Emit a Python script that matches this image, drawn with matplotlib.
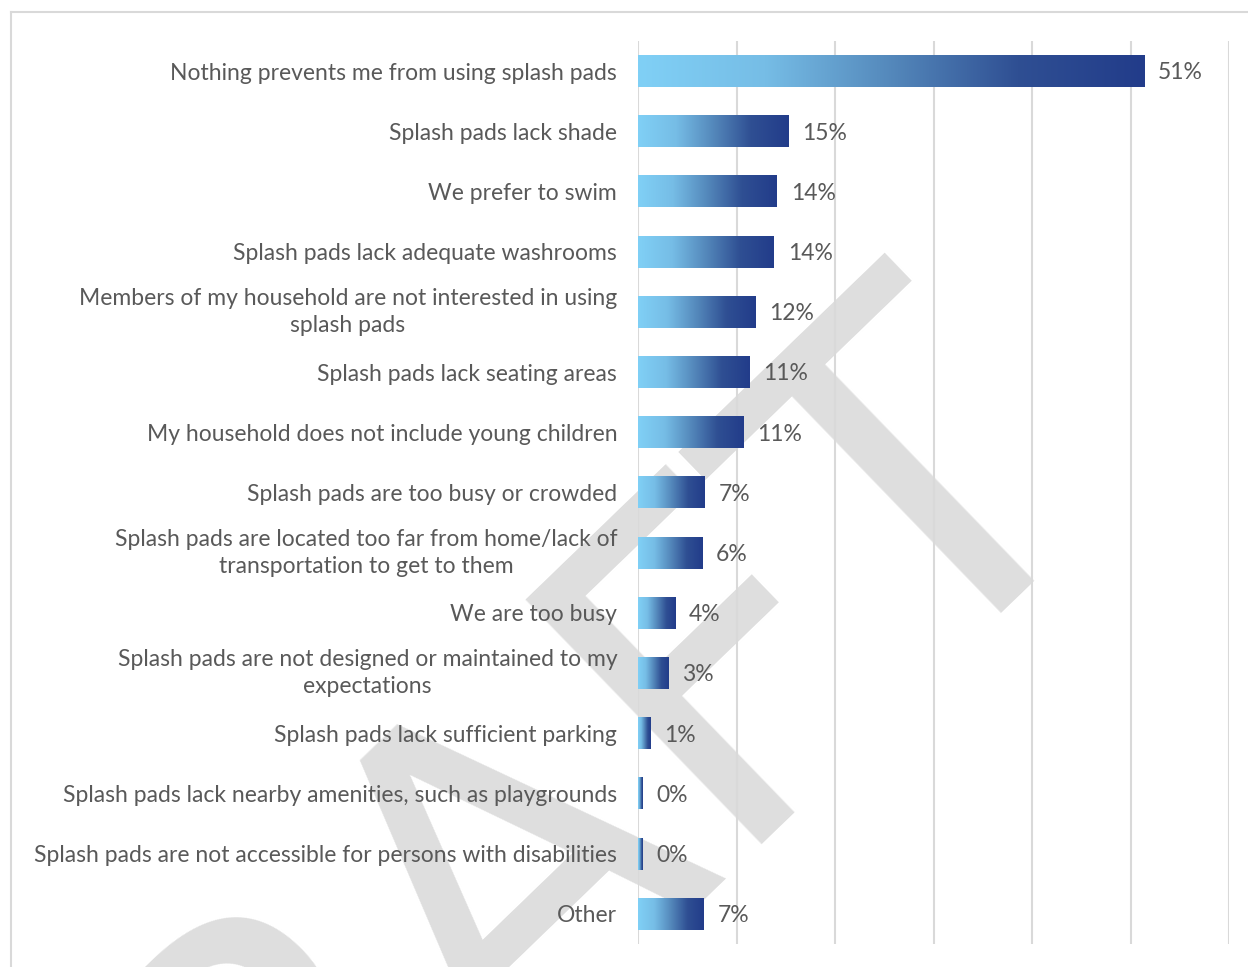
import matplotlib
matplotlib.use('Agg')
import matplotlib.pyplot as plt
from matplotlib import font_manager
from matplotlib.colors import LinearSegmentedColormap
from matplotlib.lines import Line2D
from matplotlib.transforms import ScaledTranslation
import numpy as np

# survey answers, top to bottom
reasons = [
    'Nothing prevents me from using splash pads',
    'Splash pads lack shade',
    'We prefer to swim',
    'Splash pads lack adequate washrooms',
    'Members of my household are not interested in using\nsplash pads',
    'Splash pads lack seating areas',
    'My household does not include young children',
    'Splash pads are too busy or crowded',
    'Splash pads are located too far from home/lack of\ntransportation to get to them',
    'We are too busy',
    'Splash pads are not designed or maintained to my\nexpectations',
    'Splash pads lack sufficient parking',
    'Splash pads lack nearby amenities, such as playgrounds',
    'Splash pads are not accessible for persons with disabilities',
    'Other',
]
values = [51.4, 15.3, 14.1, 13.8, 11.9, 11.3, 10.7, 6.8, 6.5, 3.8, 3.1, 1.3, 0.5, 0.5, 6.7]
labels = ['51%', '15%', '14%', '14%', '12%', '11%', '11%', '7%', '6%', '4%', '3%', '1%', '0%', '0%', '7%']

FONT = 'Lato'
TEXT = '#595959'
GRID = '#d9d9d9'

installed = {f.name for f in font_manager.fontManager.ttflist}
WM_FONT = 'Liberation Sans Narrow' if 'Liberation Sans Narrow' in installed else 'DejaVu Sans'

grad = LinearSegmentedColormap.from_list(
    'bar', ['#80d0f6', '#76bde6', '#5488bb', '#2f4f93', '#223c8a'])

fig = plt.figure(figsize=(12.48, 9.67), dpi=100)

# DRAFT watermark, anchored at the end of the T
fig.text(1108/1248, 1 - 466/967, 'DRAFT', fontsize=335, color='#dedede', family=WM_FONT,
         rotation=44, rotation_mode='anchor', ha='right', va='baseline', zorder=-1)

# light frame round the chart
fig.add_artist(Line2D([11/1248, 1], [1 - 12/967, 1 - 12/967], color=GRID, lw=1.5))
fig.add_artist(Line2D([11/1248, 11/1248], [1 - 12/967, 0], color=GRID, lw=1.5))

ax = fig.add_axes([638/1248, 1 - 944/967, (1229 - 638)/1248, (944 - 41)/967])
ax.patch.set_alpha(0)

n = len(values)
h = 0.53
gx = np.linspace(0, 1, 256).reshape(1, -1)
for i, v in enumerate(values):
    ax.imshow(gx, cmap=grad, aspect='auto', extent=[0, v, i + h/2, i - h/2],
              zorder=3, interpolation='bilinear')
    ax.text(v + 1.4, i + 0.03, labels[i], ha='left', va='center', fontsize=16.5,
            color=TEXT, family=FONT, zorder=4)

ax.set_xlim(0, 60)
ax.set_ylim(n - 0.5, -0.5)
ax.set_xticks(np.arange(0, 61, 10))
ax.set_xticklabels([])
ax.tick_params(axis='x', length=0)
ax.grid(axis='x', color=GRID, lw=1.5, zorder=1)
ax.set_yticks(range(n))
ax.set_yticklabels(reasons, fontsize=16.5, color=TEXT, family=FONT)
ax.tick_params(axis='y', length=0, pad=15)
nudge = ScaledTranslation(0, 0.05, fig.dpi_scale_trans)
for lab in ax.get_yticklabels():
    lab.set_multialignment('center')
    lab.set_linespacing(1.35)
    if '\n' in lab.get_text():
        lab.set_transform(lab.get_transform() + nudge)
for s in ax.spines.values():
    s.set_visible(False)

plt.savefig('out.png', dpi=100)
